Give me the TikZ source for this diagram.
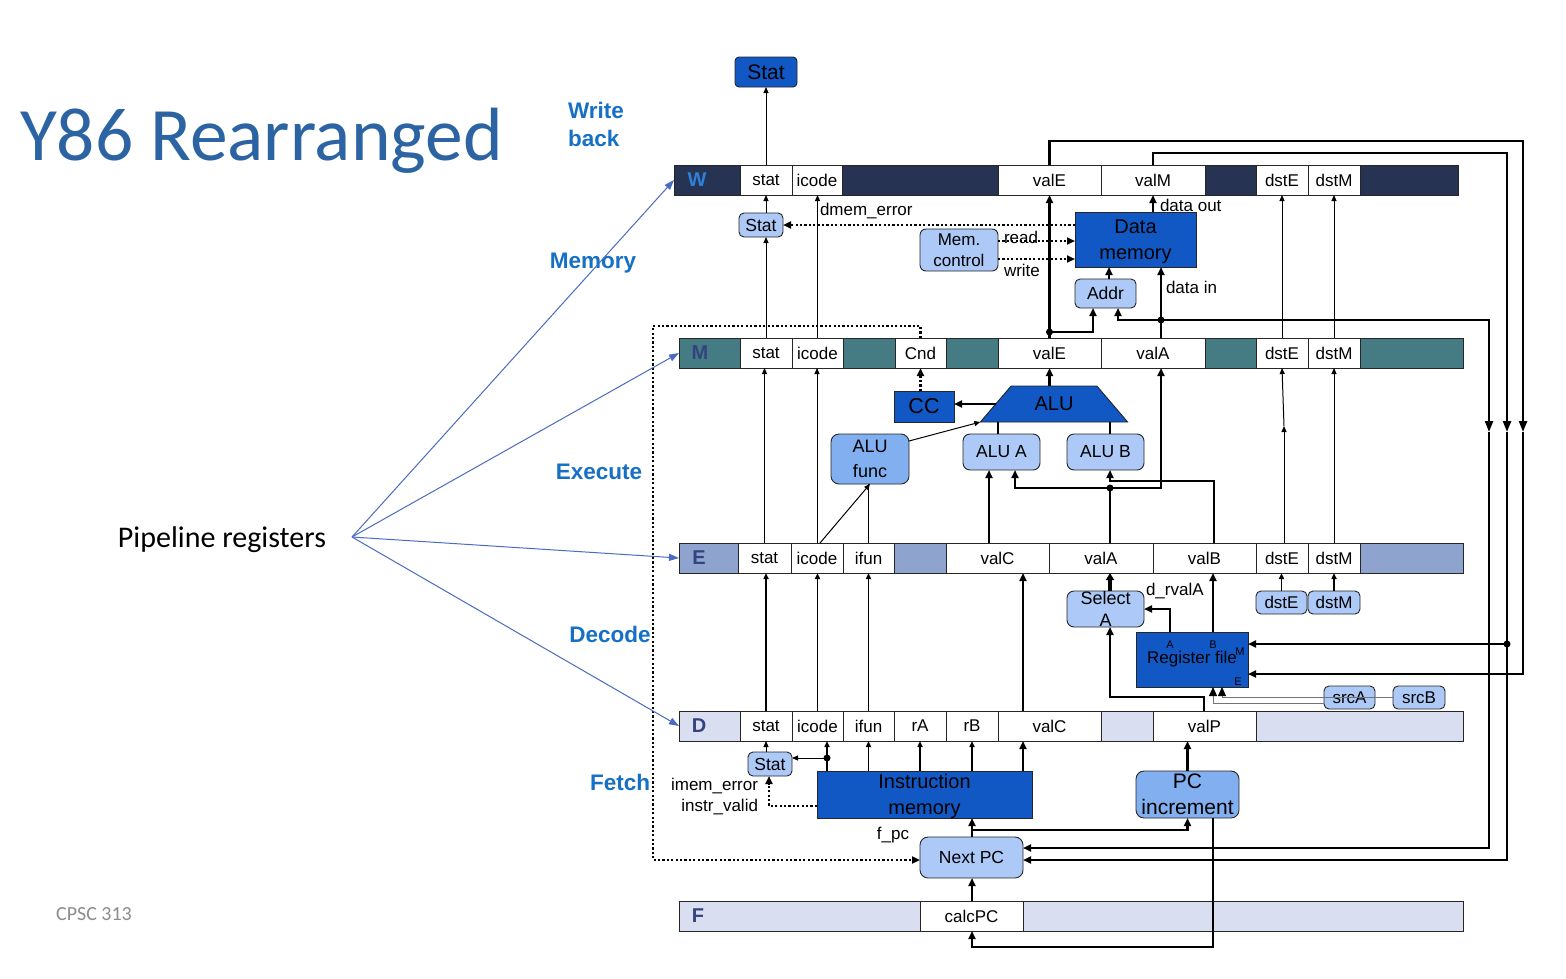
\documentclass[tikz,border=0pt]{standalone}
\usepackage{fontspec}
\setmainfont{Liberation Sans}
\newfontfamily\calfont{Carlito}
\usetikzlibrary{arrows.meta,calc,shapes.geometric}

\definecolor{wbar}{HTML}{263353}
\definecolor{mbar}{HTML}{457B82}
\definecolor{ebar}{HTML}{8FA3CF}
\definecolor{dbar}{HTML}{D9DFF0}
\definecolor{darkbox}{HTML}{1158C4}
\definecolor{lightbox}{HTML}{ACC9F7}
\definecolor{midbox}{HTML}{82AFF0}
\definecolor{stagecol}{HTML}{1670C4}
\definecolor{titlecol}{HTML}{2C64A3}
\definecolor{wlabel}{HTML}{2E80D8}
\definecolor{reglabel}{HTML}{34437F}
\definecolor{pointer}{HTML}{4A6CC0}
\definecolor{cpscgray}{HTML}{8C8C8C}

% one field of a pipeline register: name, left x, top y, width, text
\newcommand\regcell[5]{\node[cell, minimum width=#4pt] (#1) at (#2,#3) {#5};}

\begin{document}
\begin{tikzpicture}[x=1pt, y=-1pt,
  every node/.style={inner sep=0pt, outer sep=0pt},
  regbar/.style={draw=black!85, line width=0.9pt, minimum height=30pt, anchor=north west},
  cell/.style={regbar, fill=white, font=\fontsize{17}{20}\selectfont},
  reglbl/.style={font=\bfseries\fontsize{20}{20}\selectfont, text=reglabel},
  blk/.style={draw=black!85, line width=0.9pt, anchor=north west, align=center},
  darkblk/.style={blk, fill=darkbox},
  lightblk/.style={blk, fill=lightbox, rounded corners=5pt},
  midblk/.style={blk, fill=midbox, rounded corners=8pt},
  thinarr/.style={line width=1pt, -{Triangle[length=6pt,width=5pt]}},
  medarr/.style={line width=1.5pt, -{Triangle[length=6pt,width=5pt]}},
  thickarr/.style={line width=2.2pt, -{Triangle[length=8pt,width=7pt]}},
  busarr/.style={line width=2.2pt, -{Triangle[length=11pt,width=8pt]}},
  thickline/.style={line width=2.2pt},
  dotline/.style={line width=2.3pt, dash pattern=on 2.2pt off 2.2pt},
  dotarr/.style={dotline, -{Triangle[length=8pt,width=7pt]}},
  srcline/.style={draw=black!55, line width=0.8pt, -{Triangle[length=9pt,width=8pt,color=black]}},
  ptr/.style={draw=pointer, line width=1pt, -{Triangle[length=10pt,width=7pt]}},
  stage/.style={text=stagecol, font=\bfseries\fontsize{22.5}{28}\selectfont},
  lbl/.style={font=\fontsize{17}{20}\selectfont}
]
\useasboundingbox (0,0) rectangle (1566,978);
\fill[white] (0,0) rectangle (1566,978);

% ---------- title and stage names ----------
\node[anchor=base west, font=\calfont\fontsize{75.5}{80}\selectfont, text=titlecol] (title) at (20,160) {Y86 Rearranged};
\node[stage, anchor=west, align=left] (swb) at (568,124) {Write\\back};
\node[stage] (smem) at (593,263) {Memory};
\node[stage] (sexe) at (599,472) {Execute};
\node[stage] (sdec) at (610,634) {Decode};
\node[stage] (sfet) at (620,782) {Fetch};
\node[font=\calfont\fontsize{30}{34}\selectfont] (pipe) at (222,540) {Pipeline registers};
\node[font=\calfont\fontsize{20}{24}\selectfont, text=cpscgray] (course) at (94,914) {CPSC 313};

% ---------- pipeline registers ----------
\node[regbar, fill=wbar, minimum width=784pt] (Wbar) at (674,165) {};
\node[reglbl, text=wlabel] (Wl) at (697,180) {W};
\regcell{Wstat}{740}{165}{52}{stat}
\regcell{Wicode}{792}{165}{50}{icode}
\regcell{Wvale}{998}{165}{103}{valE}
\regcell{Wvalm}{1101}{165}{104}{valM}
\regcell{Wdste}{1256}{165}{52}{dstE}
\regcell{Wdstm}{1308}{165}{52}{dstM}

\node[regbar, fill=mbar, minimum width=784pt] (Mbar) at (679,338) {};
\node[reglbl] (Ml) at (700,353) {M};
\regcell{Mstat}{740}{338}{52}{stat}
\regcell{Micode}{792}{338}{51}{icode}
\regcell{Mcnd}{895}{338}{51}{Cnd}
\regcell{Mvale}{998}{338}{103}{valE}
\regcell{Mvala}{1101}{338}{104}{valA}
\regcell{Mdste}{1256}{338}{52}{dstE}
\regcell{Mdstm}{1308}{338}{52}{dstM}

\node[regbar, fill=ebar, minimum width=784pt] (Ebar) at (679,543) {};
\node[reglbl] (El) at (699,558) {E};
\regcell{Estat}{738}{543}{53}{stat}
\regcell{Eicode}{791}{543}{52}{icode}
\regcell{Eifun}{843}{543}{51}{ifun}
\regcell{Evalc}{946}{543}{103}{valC}
\regcell{Evala}{1049}{543}{104}{valA}
\regcell{Evalb}{1153}{543}{103}{valB}
\regcell{Edste}{1256}{543}{52}{dstE}
\regcell{Edstm}{1308}{543}{52}{dstM}

\node[regbar, fill=dbar, minimum width=784pt] (Dbar) at (679,711) {};
\node[reglbl] (Dl) at (699,726) {D};
\regcell{Dstat}{740}{711}{52}{stat}
\regcell{Dicode}{792}{711}{51}{icode}
\regcell{Difun}{843}{711}{51}{ifun}
\regcell{Dra}{894}{711}{52}{rA}
\regcell{Drb}{946}{711}{52}{rB}
\regcell{Dvalc}{998}{711}{103}{valC}
\regcell{Dvalp}{1153}{711}{103}{valP}

\node[regbar, fill=dbar, minimum width=784pt] (Fbar) at (679,901) {};
\node[reglbl] (Fl) at (698,916) {F};
\regcell{Fcalc}{920}{901}{103}{calcPC}

% ---------- functional blocks ----------
\node[darkblk, rounded corners=4pt, minimum width=62pt, minimum height=30pt, font=\fontsize{21}{24}\selectfont] (StatTop) at (735,57) {Stat};
\node[lightblk, minimum width=44pt, minimum height=24pt, font=\fontsize{17.5}{20}\selectfont] (StatM) at (739,213) {Stat};
\node[darkblk, minimum width=121pt, minimum height=55pt, text depth=0pt, font=\fontsize{20}{26}\selectfont] (Dmem) at (1075,212) {Data\\memory};
\node[lightblk, rounded corners=6pt, minimum width=78pt, minimum height=42pt, font=\fontsize{17}{21}\selectfont] (Memctl) at (920,229) {Mem.\\control};
\node[lightblk, minimum width=61pt, minimum height=29pt, font=\fontsize{17.5}{20}\selectfont] (Addr) at (1075,279) {Addr};
\node[darkblk, minimum width=60pt, minimum height=31pt, font=\fontsize{21.5}{24}\selectfont] (CC) at (894,391) {CC};
\node[trapezium, trapezium left angle=45, trapezium right angle=45, trapezium stretches=true,
      minimum width=148pt, minimum height=36pt, fill=darkbox, draw=black!85, line width=0.9pt,
      font=\fontsize{20}{24}\selectfont] (ALU) at (1054,404) {ALU};
\node[midblk, minimum width=78pt, minimum height=50pt, font=\fontsize{18}{25}\selectfont] (ALUfunc) at (831,434) {ALU\\func};
\node[lightblk, rounded corners=7pt, minimum width=77pt, minimum height=36pt, font=\fontsize{17.5}{20}\selectfont] (ALUA) at (963,434) {ALU A};
\node[lightblk, rounded corners=7pt, minimum width=77pt, minimum height=36pt, font=\fontsize{17.5}{20}\selectfont] (ALUB) at (1067,434) {ALU B};
\node[lightblk, rounded corners=7pt, minimum width=77pt, minimum height=36pt, font=\fontsize{18}{22}\selectfont] (SelA) at (1067,591) {Select\\A};
\node[darkblk, minimum width=112pt, minimum height=55pt, font=\fontsize{17}{20}\selectfont] (RF) at (1136,632) {Register file};
\node[font=\fontsize{11}{11}\selectfont] (rfA) at (1170,645) {A};
\node[font=\fontsize{11}{11}\selectfont] (rfB) at (1213,645) {B};
\node[font=\fontsize{11}{11}\selectfont] (rfM) at (1240,652) {M};
\node[font=\fontsize{11}{11}\selectfont] (rfE) at (1238,682) {E};
\node[lightblk, minimum width=51pt, minimum height=23pt, font=\fontsize{17}{20}\selectfont] (dstEs) at (1256,591) {dstE};
\node[lightblk, minimum width=52pt, minimum height=23pt, font=\fontsize{17}{20}\selectfont] (dstMs) at (1308,591) {dstM};
\node[lightblk, minimum width=51pt, minimum height=23pt, font=\fontsize{17}{20}\selectfont] (srcA) at (1324,686) {srcA};
\node[lightblk, minimum width=52pt, minimum height=23pt, font=\fontsize{17}{20}\selectfont] (srcB) at (1393,686) {srcB};
\node[lightblk, minimum width=44pt, minimum height=24pt, font=\fontsize{17.5}{20}\selectfont] (StatF) at (748,752) {Stat};
\node[darkblk, minimum width=215pt, minimum height=47pt, text depth=0pt, font=\fontsize{20}{26}\selectfont] (IM) at (817,771) {Instruction\\memory};
\node[midblk, minimum width=103pt, minimum height=47pt, text depth=0pt, font=\fontsize{21}{26}\selectfont] (PCinc) at (1136,771) {PC\\increment};
\node[lightblk, rounded corners=8pt, minimum width=103pt, minimum height=41pt, font=\fontsize{17.5}{20}\selectfont] (NextPC) at (920,837) {Next PC};

% ---------- signal labels ----------
\node[lbl, anchor=west] (ldmem) at (820,211) {dmem\_error};
\node[lbl, anchor=west] (lread) at (1004,237) {read};
\node[lbl, anchor=west] (lwrite) at (1004,270) {write};
\node[lbl, anchor=west] (ldout) at (1160,205) {data out};
\node[lbl, anchor=west] (ldin) at (1166,287) {data in};
\node[lbl, anchor=west] (ldrv) at (1146,591) {d\_rvalA};
\node[lbl, anchor=east] (limem) at (758,786) {imem\_error};
\node[lbl, anchor=east] (linstr) at (758,807) {instr\_valid};
\node[lbl] (lfpc) at (893,835) {f\_pc};

% ---------- wire columns, junctions and bends ----------
\foreach \c in {769,820,827,972,989,998,1015,1023,1093,1109,1110,1118,1161,1170,1204,1213,1214,1222}
  \coordinate (c\c) at (\c,0);
\coordinate (jE) at (1049.5,332);
\coordinate (jA) at (1161,320);
\coordinate (mA) at (1489,432);
\coordinate (busA) at (1489,848);
\coordinate (cTE) at (1523,141);
\coordinate (mE) at (1523,432);
\coordinate (busE) at (1523,674);
\coordinate (cTM) at (1507,153);
\coordinate (mM) at (1507,432);
\coordinate (busM) at (1507,860);
\coordinate (jRM) at (1507,644);
\coordinate (frTL) at (653,326);
\coordinate (frBL) at (653,860);
\coordinate (jV) at (1110,488);
\coordinate (cB) at (1110,481);
\coordinate (cP) at (1110,697);
\coordinate (dEm) at (1284,426);
\coordinate (jI) at (827,758);
\coordinate (jN) at (972,830);
\coordinate (cBot) at (972,947);
\coordinate (rdA) at ([yshift=9pt]Memctl.east);
\coordinate (wrA) at ([yshift=-9pt]Memctl.east);
\coordinate (sAo) at ([yshift=-5.5pt]srcA.west);
\coordinate (imw) at ([yshift=-11.5pt]IM.west);
\coordinate (afo) at ([yshift=18pt]ALUfunc.east);

% ---------- write-back and memory stage wires ----------
\draw[thinarr] (Wstat.north) -- (Wstat.north |- StatTop.south);
\draw[thinarr] (Mstat.north) -- (Mstat.north |- StatM.south);
\draw[thinarr] (Wstat.south |- StatM.north) -- (Wstat.south);
\draw[thinarr] (Micode.north) -- (Micode.north |- Wicode.south);
\draw[dotarr] (StatM.east -| Dmem.west) -- (StatM.east);
\draw[dotarr] (rdA) -- (rdA -| Dmem.west);
\draw[dotarr] (wrA) -- (wrA -| Dmem.west);
\draw[thickarr] (Mvale.north) -- (Wvale.south);
\fill (jE) circle (3.5pt);
\draw[thickarr] (jE) -| (Addr.south -| c1093);
\draw[thickarr] (Addr.north -| c1109) -- (Dmem.south -| c1109);
\draw[thickarr] (Mvala.north -| c1161) -- (Dmem.south -| c1161);
\fill (jA) circle (3.5pt);
\draw[thickarr] (jA) -| (Addr.south -| c1118);
\draw[busarr] (jA) -| (mA);
\draw[thickarr] (mA) -- (busA) -- (busA -| NextPC.east);
\draw[thickarr] (Dmem.north -| Wvalm.south) -- (Wvalm.south);
\draw[busarr] (Wvale.north) |- (cTE) -- (mE);
\draw[thickarr] (mE) -- (busE) -- (busE -| RF.east);
\draw[busarr] (Wvalm.north) |- (cTM) -- (mM);
\draw[thickarr] (mM) -- (busM) -- (busM -| NextPC.east);
\fill (jRM) circle (3.5pt);
\draw[thickarr] (jRM) -- (jRM -| RF.east);
\draw[thinarr] (Mdste.north) -- (Wdste.south);
\draw[thinarr] (Mdstm.north) -- (Wdstm.south);

% ---------- execute stage wires ----------
\draw[thickarr] (ALU.north -| Mvale.south) -- (Mvale.south);
\draw[thickarr] (ALU.west) -- (ALU.west -| CC.east);
\draw[dotarr] (Mcnd.south |- CC.north) -- (Mcnd.south);
\draw[dotarr] (Mcnd.north) |- (frTL) -- (frBL) -- (frBL -| NextPC.west);
\draw[thinarr] (afo) -- (ALU.bottom left corner);
\draw[thickline] (ALUA.north -| c998) -- (ALU.south -| c998);
\draw[thickline] (ALUB.north -| c1110) -- (ALU.south -| c1110);
\draw[thickarr] (Evalc.north -| c989) -- (ALUA.south -| c989);
\draw[thickline] (Evala.north -| jV) -- (jV);
\fill (jV) circle (3.5pt);
\draw[thickarr] (jV) -| (ALUA.south -| c1015);
\draw[thickarr] (jV) -| (Mvala.south -| c1161);
\draw[thickarr] (Evalb.north -| c1214) |- (cB) -- (ALUB.south -| cB);
\draw[thinarr] (Estat.north) -- (Estat.north |- Mstat.south);
\draw[thinarr] (Eicode.north) -- (Eicode.north |- Micode.south);
\draw[thinarr] (Eicode.north -| c820) -- (ALUfunc.south);
\draw[line width=1pt] (Eifun.north) -- (Eifun.north |- ALUfunc.south);
\draw[thinarr] (Edste.north -| dEm) -- (dEm);
\draw[thinarr] (dEm) -- (Mdste.south);
\draw[thinarr] (Edstm.north) -- (Mdstm.south);

% ---------- decode stage wires ----------
\draw[medarr] (Dstat.north) -- (Dstat.north |- Estat.south);
\draw[medarr] (Dicode.north) -- (Dicode.north |- Eicode.south);
\draw[medarr] (Difun.north) -- (Difun.north |- Eifun.south);
\draw[thickarr] (Dvalc.north -| c1023) -- (Evalc.south -| c1023);
\draw[line width=3.5pt, -{Triangle[length=7pt,width=8pt]}] (SelA.north -| c1110) -- (Evala.south -| c1110);
\draw[thickarr] (RF.north -| c1170) |- (SelA.east);
\draw[thickarr] (RF.north -| c1213) -- (Evalb.south -| c1213);
\draw[thickarr] (Dvalp.north -| c1204) |- (cP) -- (SelA.south -| cP);
\draw[medarr] (dstEs.north) -- (dstEs.north |- Edste.south);
\draw[medarr] (dstMs.north) -- (dstMs.north |- Edstm.south);
\draw[srcline] (sAo) -| (RF.south -| c1213);
\draw[srcline] (srcB.west) -| (RF.south -| c1222);

% ---------- fetch stage wires ----------
\draw[thinarr] (Dstat.south |- StatF.north) -- (Dstat.south);
\draw[medarr] (IM.north -| c827) -- (Dicode.south -| c827);
\fill (jI) circle (3.5pt);
\draw[thinarr] (jI) -- (jI -| StatF.east);
\draw[medarr] (IM.north -| Difun.south) -- (Difun.south);
\draw[medarr] (IM.north -| Dra.south) -- (Dra.south);
\draw[medarr] (IM.north -| Drb.south) -- (Drb.south);
\draw[thickarr] (IM.north -| c1023) -- (Dvalc.south -| c1023);
\draw[dotarr] (imw) -| (StatF.south -| c769);
\draw[thickarr] (NextPC.north -| c972) -- (IM.south -| c972);
\draw[thickarr] (jN) -| (PCinc.south);
\draw[thickarr] (PCinc.north) -- (PCinc.north |- Dvalp.south);
\draw[thickarr] (PCinc.south -| c1213) |- (cBot) -- (Fcalc.south -| cBot);
\draw[thickarr] (Fcalc.north -| c972) -- (NextPC.south -| c972);

% ---------- pointers to the pipeline registers ----------
\coordinate (pp) at (352,537);
\draw[ptr] (pp) -- (Wbar.west);
\draw[ptr] (pp) -- (Mbar.west);
\draw[ptr] (pp) -- (Ebar.west);
\draw[ptr] (pp) -- (Dbar.west);
\end{tikzpicture}
\end{document}
